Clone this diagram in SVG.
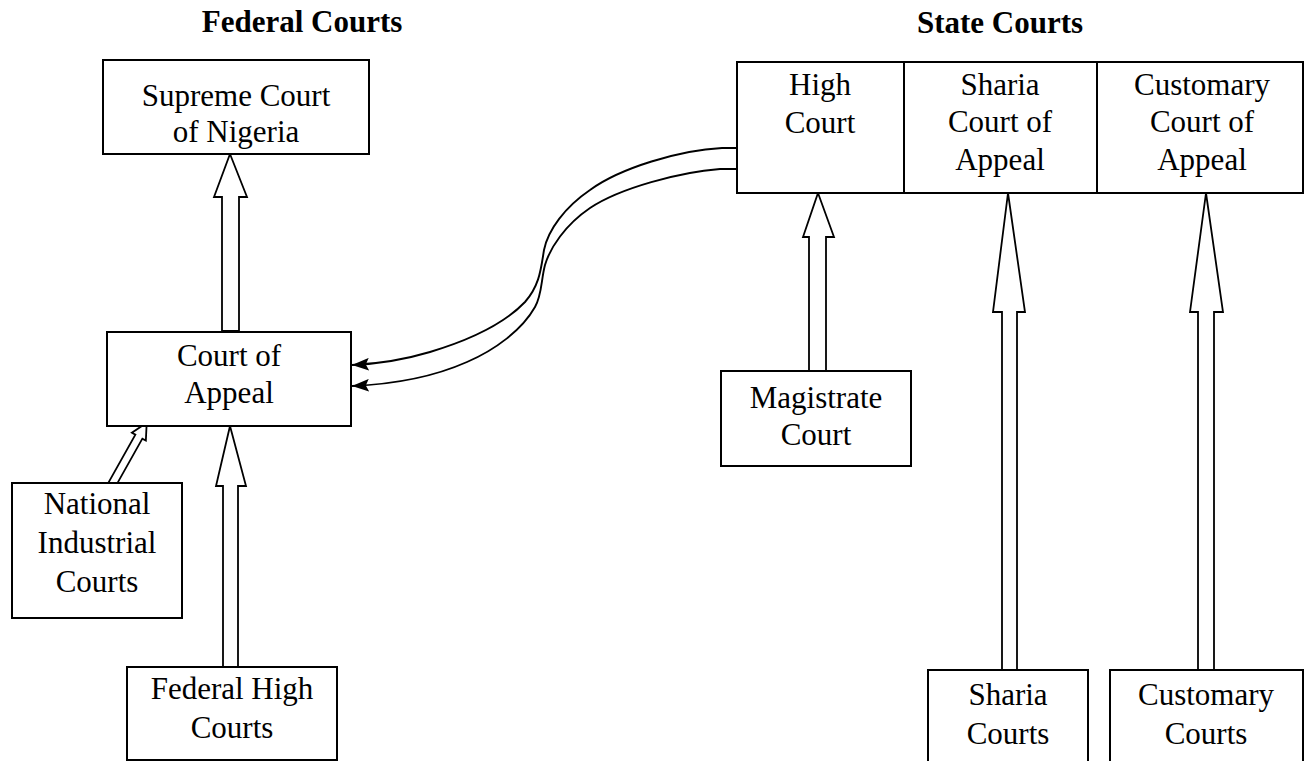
<svg xmlns="http://www.w3.org/2000/svg" width="1307" height="761" viewBox="0 0 1307 761">
<style>
.box{fill:#fff;stroke:#000;stroke-width:2}
.blk{fill:#fff;stroke:#000;stroke-width:1.8;stroke-linejoin:miter}
.crv{fill:none;stroke:#000;stroke-width:1.9}
.t{font-family:"Liberation Serif","Times New Roman",serif;font-size:31px;fill:#000;text-anchor:middle}
.h{font-family:"Liberation Serif","Times New Roman",serif;font-size:31px;font-weight:bold;fill:#000;text-anchor:middle}
</style>
<defs>
<marker id="ah" markerUnits="userSpaceOnUse" markerWidth="17" markerHeight="13" viewBox="0 0 16 12" refX="16" refY="6" orient="auto">
<path d="M0,0 L16,6 L0,12 L3,6 z" fill="#000"/>
</marker>
</defs>
<rect width="1307" height="761" fill="#fff"/>
<text class="h" x="302" y="32">Federal Courts</text>
<text class="h" x="1000" y="33">State Courts</text>
<g id="connectors">
<path class="blk" d="M230,154 L247,197 L239,197 L239,331 L222,331 L222,197 L214,197 Z"/>
<path class="blk" d="M230,426 L246,486 L238,486 L238,667 L223,667 L223,486 L216,486 Z"/>
<path class="blk" d="M818,193 L834,237 L826,237 L826,371 L809,371 L809,237 L803,237 Z"/>
<path class="blk" d="M1008,193 L1025,312 L1017,312 L1017,670 L1002,670 L1002,312 L993,312 Z"/>
<path class="blk" d="M1206,193 L1223,312 L1214,312 L1214,670 L1198,670 L1198,312 L1190,312 Z"/>
<path class="blk" transform="translate(146.7,422.7) rotate(29.3)" d="M0,0 L8,16 L4,16 L4,71 L-4,71 L-4,16 L-8,16 Z"/>
<path class="crv" marker-end="url(#ah)" d="M737,148 L722,148 C680,150 620,168 590,190 C565,207 548,230 544,250 C541,268 540,285 525,302 C505,323 470,340 430,352 C400,361 375,364 352,365"/>
<path class="crv" marker-end="url(#ah)" d="M737,169 L720,169 C680,172 620,188 590,208 C565,225 550,248 545,265 C541,280 542,295 535,307 C522,330 495,350 467,362 C440,374 400,384 352,386"/>
</g>
<g id="supreme-court">
<rect class="box" x="103" y="60" width="266" height="94"/>
<text class="t" x="236" y="106">Supreme Court</text>
<text class="t" x="236" y="142">of Nigeria</text>
</g>
<g id="court-of-appeal">
<rect class="box" x="107" y="332" width="244" height="94"/>
<text class="t" x="229" y="366">Court of</text>
<text class="t" x="229" y="403">Appeal</text>
</g>
<g id="national-industrial-courts">
<rect class="box" x="12" y="483" width="170" height="135"/>
<text class="t" x="97" y="514">National</text>
<text class="t" x="97" y="553">Industrial</text>
<text class="t" x="97" y="592">Courts</text>
</g>
<g id="federal-high-courts">
<rect class="box" x="127" y="667" width="210" height="93"/>
<text class="t" x="232" y="699">Federal High</text>
<text class="t" x="232" y="738">Courts</text>
</g>
<g id="high-court">
<rect class="box" x="737" y="62" width="167" height="131"/>
<text class="t" x="820" y="95">High</text>
<text class="t" x="820" y="133">Court</text>
</g>
<g id="sharia-court-of-appeal">
<rect class="box" x="904" y="62" width="193" height="131"/>
<text class="t" x="1000" y="95">Sharia</text>
<text class="t" x="1000" y="132">Court of</text>
<text class="t" x="1000" y="170">Appeal</text>
</g>
<g id="customary-court-of-appeal">
<rect class="box" x="1097" y="62" width="206" height="131"/>
<text class="t" x="1202" y="95">Customary</text>
<text class="t" x="1202" y="132">Court of</text>
<text class="t" x="1202" y="170">Appeal</text>
</g>
<g id="magistrate-court">
<rect class="box" x="721" y="371" width="190" height="95"/>
<text class="t" x="816" y="408">Magistrate</text>
<text class="t" x="816" y="445">Court</text>
</g>
<g id="sharia-courts">
<rect class="box" x="928" y="670" width="160" height="100"/>
<text class="t" x="1008" y="705">Sharia</text>
<text class="t" x="1008" y="744">Courts</text>
</g>
<g id="customary-courts">
<rect class="box" x="1110" y="670" width="193" height="100"/>
<text class="t" x="1206" y="705">Customary</text>
<text class="t" x="1206" y="744">Courts</text>
</g>
</svg>
